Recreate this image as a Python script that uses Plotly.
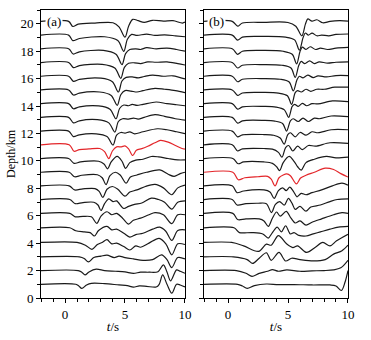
import plotly.graph_objects as go

# ---------------- data ----------------
DEPTHS = list(range(1, 21))
# pre-event level of each trace (km), depth 1..20
DC = [0, 0, 0, 0.05, 0.12, 0.17, 0.18, 0.18, 0.17, 0.17,
      0.17, 0.17, 0.17, 0.17, 0.17, 0.17, 0.17, 0.17, 0.17, 0.17]
RED_A = 11
RED_B = 9
T_START = -2
X_TICKS = [0, 5, 10]
Y_TICKS = list(range(0, 21, 2))

# ---- panel (a): (time s, amplitude km) key points ----
A1 = [(0.9, 0), (1.15, -0.12), (1.4, -0.3), (1.8, -0.05), (2.2, 0.07), (3.3, 0.05), (4.5, -0.05), (5.2, -0.1), (5.7, -0.2), (6.2, -0.12), (6.8, -0.15), (7.6, -0.2), (7.85, 0.0), (8.14, 0.68), (8.5, 0.0), (8.9, -0.65), (9.3, 0.0), (9.6, -0.05), (10, -0.2)]
A2 = [(1.1, 0), (1.4, -0.12), (1.67, -0.32), (2.0, -0.1), (2.6, 0.1), (3.3, 0.0), (4.2, -0.05), (5.0, -0.1), (5.7, -0.2), (6.3, -0.12), (7.0, -0.12), (7.75, -0.08), (8.2, 0.42), (8.5, -0.1), (8.8, -0.75), (9.3, 0.05), (9.6, -0.05), (10, -0.2)]
A3 = [(1.2, 0), (1.6, -0.12), (1.95, -0.37), (2.4, -0.05), (3.0, 0.05), (3.5, 0.12), (4.1, -0.05), (4.5, 0.05), (5.0, -0.05), (5.7, -0.15), (6.5, -0.25), (7.3, -0.2), (8.05, 0.15), (8.5, -0.2), (8.9, -0.78), (9.4, -0.05), (10, -0.15)]
A4 = [(1.0, 0), (1.7, -0.2), (2.25, -0.5), (2.7, -0.15), (3.1, 0.0), (3.5, 0.2), (3.9, -0.1), (4.3, -0.05), (4.9, -0.3), (5.4, -0.55), (5.9, -0.25), (6.3, -0.35), (7.0, -0.05), (7.85, 0.3), (8.4, -0.1), (8.9, -0.9), (9.4, -0.1), (10, -0.15)]
A5 = [(0.4, 0), (0.9, -0.22), (1.6, -0.3), (2.1, -0.35), (2.45, -0.6), (2.8, -0.2), (3.5, 0.1), (3.9, -0.15), (4.3, -0.1), (4.9, -0.4), (5.4, -0.68), (5.9, -0.5), (6.5, -0.4), (7.3, -0.1), (7.9, 0.05), (8.4, -0.25), (8.9, -0.92), (9.4, -0.2), (10, -0.15)]
A6 = [(0.4, 0), (0.85, -0.25), (1.5, -0.22), (2.2, -0.25), (2.65, -0.73), (3.0, -0.2), (3.5, 0.12), (3.9, -0.1), (4.3, 0.0), (4.8, -0.35), (5.3, -0.78), (5.7, -0.5), (6.3, -0.35), (7.0, -0.1), (7.5, 0.05), (8.2, -0.1), (8.9, -0.75), (9.4, -0.1), (10, -0.1)]
A7 = [(0.4, 0), (0.85, -0.3), (1.5, -0.22), (2.4, -0.2), (2.75, -0.4), (3.0, -0.8), (3.3, -0.3), (3.65, 0.05), (4.0, -0.15), (4.3, -0.1), (4.9, -0.65), (5.3, -0.5), (5.8, -0.35), (6.4, -0.25), (7.2, 0.1), (7.8, 0.0), (8.3, -0.2), (8.9, -0.7), (9.4, -0.2), (10, -0.1)]
A8 = [(0.35, 0), (0.8, -0.3), (1.5, -0.22), (2.5, -0.2), (2.85, -0.4), (3.15, -0.85), (3.5, -0.25), (3.95, -0.05), (4.4, -0.25), (5.0, -0.75), (5.4, -0.45), (6.0, -0.3), (6.7, -0.05), (7.5, 0.1), (8.2, -0.15), (8.9, -0.65), (9.4, -0.15), (10, 0.05)]
A9 = [(0.35, 0), (0.8, -0.33), (1.4, -0.22), (2.7, -0.18), (3.1, -0.4), (3.42, -0.9), (3.75, -0.25), (4.2, 0.0), (4.6, -0.2), (5.1, -0.8), (5.45, -0.35), (6.0, -0.2), (6.8, 0.0), (7.9, 0.17), (8.6, -0.15), (9.1, -0.3), (9.6, -0.1), (10, 0.0)]
A10 = [(0.3, 0), (0.75, -0.35), (1.3, -0.25), (2.8, -0.2), (3.25, -0.4), (3.55, -0.75), (3.85, -0.25), (4.35, 0.15), (4.75, -0.2), (5.05, -0.72), (5.4, -0.3), (5.9, -0.12), (6.5, -0.05), (7.2, 0.15), (7.8, 0.12), (8.6, 0.0), (9.4, -0.1), (10, -0.1)]
A11 = [(0.35, 0), (0.75, -0.47), (1.2, -0.35), (2.0, -0.3), (2.9, -0.27), (3.3, -0.5), (3.65, -1.0), (3.95, -0.45), (4.3, -0.15), (4.7, -0.15), (5.0, -0.08), (5.3, -0.3), (5.65, -0.78), (5.95, -0.4), (6.4, -0.28), (6.9, -0.1), (7.5, 0.15), (7.95, 0.32), (8.6, 0.2), (9.2, -0.05), (9.7, -0.25), (10, -0.32)]
A12 = [(0.3, 0), (0.7, -0.4), (1.2, -0.27), (2.6, -0.2), (3.5, -0.4), (4.0, -1.02), (4.3, -0.3), (4.65, -0.1), (5.0, -0.15), (5.4, -0.05), (5.8, -0.2), (6.5, -0.05), (7.7, 0.17), (8.5, 0.1), (9.3, -0.05), (10, -0.18)]
A13 = [(0.3, 0), (0.7, -0.4), (1.2, -0.25), (2.7, -0.17), (3.65, -0.4), (4.15, -1.07), (4.45, -0.3), (4.8, -0.1), (5.3, -0.12), (5.7, -0.05), (6.1, -0.12), (6.6, 0.0), (7.5, 0.2), (8.3, 0.08), (9.2, -0.1), (10, -0.2)]
A14 = [(0.3, 0), (0.7, -0.37), (1.2, -0.23), (2.8, -0.16), (3.75, -0.4), (4.25, -1.1), (4.55, -0.35), (4.9, -0.1), (5.3, -0.15), (5.6, -0.05), (6.0, -0.12), (6.5, -0.05), (7.6, 0.12), (8.5, 0.0), (9.3, -0.08), (10, -0.15)]
A15 = [(0.3, 0), (0.7, -0.37), (1.2, -0.23), (2.9, -0.15), (3.85, -0.4), (4.35, -1.12), (4.65, -0.35), (5.0, -0.05), (5.5, -0.08), (6.0, -0.15), (6.5, -0.05), (7.5, 0.12), (8.3, 0.05), (9.2, -0.05), (10, -0.2)]
A16 = [(0.3, 0), (0.7, -0.37), (1.2, -0.23), (3.0, -0.14), (3.95, -0.4), (4.45, -1.15), (4.75, -0.35), (5.1, -0.08), (5.6, -0.05), (6.1, -0.12), (6.6, -0.02), (7.3, 0.08), (8.2, 0.0), (9.0, 0.03), (10, -0.2)]
A17 = [(0.3, 0), (0.7, -0.37), (1.2, -0.22), (3.1, -0.13), (4.15, -0.4), (4.65, -1.15), (4.95, -0.35), (5.3, -0.05), (5.8, -0.02), (6.3, -0.08), (6.9, 0.05), (7.6, 0.02), (8.5, 0.05), (9.4, -0.08), (10, -0.18)]
A18 = [(0.3, 0), (0.68, -0.38), (1.2, -0.22), (3.2, -0.12), (4.25, -0.4), (4.75, -1.15), (5.05, -0.35), (5.4, -0.05), (5.9, 0.0), (6.3, -0.05), (6.8, 0.08), (7.6, 0.0), (8.5, 0.05), (9.3, -0.05), (10, -0.17)]
A19 = [(0.3, 0), (0.65, -0.4), (1.2, -0.25), (3.3, -0.12), (4.4, -0.4), (4.9, -1.18), (5.2, -0.3), (5.55, 0.05), (6.0, -0.02), (6.8, 0.07), (7.5, -0.02), (8.3, 0.02), (9.2, -0.05), (10, -0.12)]
A20 = [(0.3, 0), (0.65, -0.37), (1.1, -0.2), (2.5, -0.12), (4.0, -0.1), (4.5, -0.4), (5.0, -1.15), (5.3, -0.35), (5.65, 0.15), (6.1, 0.05), (6.6, -0.07), (7.3, 0.08), (8.2, 0.02), (9.0, 0.05), (9.8, -0.12), (10, -0.05)]

# ---- panel (b) ----
B1 = [(0.8, 0), (1.2, -0.12), (1.6, -0.3), (2.2, -0.1), (3.2, 0.02), (4.2, -0.03), (5.5, -0.02), (7.0, -0.05), (8.5, -0.05), (9.0, -0.12), (9.45, -0.45), (9.75, 0.15), (10, 1.0)]
B2 = [(0.7, 0), (1.5, -0.2), (2.0, -0.42), (2.6, -0.2), (3.3, -0.05), (3.7, 0.07), (4.2, -0.05), (4.9, 0.05), (6.0, -0.05), (7.0, -0.02), (8.0, 0.0), (8.8, 0.05), (9.4, 0.2), (10, 0.75)]
B3 = [(0.45, 0), (1.6, -0.2), (2.05, -0.48), (2.6, -0.1), (3.2, 0.3), (3.6, -0.25), (4.25, 0.32), (4.8, -0.3), (5.3, -0.1), (6.0, -0.2), (7.1, -0.3), (8.1, -0.2), (8.8, 0.2), (9.5, 0.45), (10, 0.85)]
B4 = [(0.3, 0), (1.3, -0.25), (2.55, -0.65), (3.2, -0.12), (3.6, -0.2), (4.2, 0.5), (4.9, -0.12), (5.4, -0.37), (5.8, -0.25), (6.55, -0.73), (7.25, -0.37), (7.9, 0.0), (8.5, -0.25), (9.05, 0.12), (10, 0.6)]
B5 = [(0.5, 0), (0.95, -0.35), (2.0, -0.35), (2.9, -0.45), (3.35, -0.75), (3.7, -0.35), (4.1, 0.05), (4.45, -0.3), (4.8, 0.15), (5.2, -0.45), (5.5, -0.35), (5.9, -0.55), (6.5, -0.6), (7.1, -0.45), (7.7, -0.3), (8.5, -0.1), (9.2, 0.05), (10, 0.1)]
B6 = [(0.4, 0), (0.8, -0.45), (1.5, -0.4), (2.6, -0.4), (3.0, -0.55), (3.36, -0.95), (3.7, -0.35), (4.05, 0.1), (4.35, -0.2), (4.85, 0.15), (5.25, -0.35), (5.6, -0.7), (6.0, -0.55), (6.5, -0.85), (7.0, -0.65), (7.8, -0.4), (8.8, -0.1), (9.5, 0.05), (10, 0.0)]
B7 = [(0.35, 0), (0.75, -0.4), (1.5, -0.3), (2.5, -0.27), (3.2, -0.3), (3.62, -0.95), (3.95, -0.35), (4.3, -0.15), (4.7, -0.4), (5.03, 0.08), (5.35, -0.3), (5.6, -0.72), (6.0, -0.5), (6.5, -0.85), (6.9, -0.55), (7.7, -0.4), (8.5, -0.15), (9.1, 0.0), (10, 0.05)]
B8 = [(0.35, 0), (0.75, -0.5), (1.3, -0.38), (3.0, -0.3), (3.5, -0.45), (3.85, -0.92), (4.2, -0.35), (4.55, -0.15), (4.85, -0.35), (5.15, -0.1), (5.45, -0.4), (5.75, -0.8), (6.1, -0.55), (6.5, -0.65), (7.0, -0.5), (7.8, -0.3), (8.7, 0.0), (9.5, 0.2), (10, 0.05)]
B9 = [(0.4, 0), (0.85, -0.55), (1.4, -0.4), (2.5, -0.33), (3.3, -0.3), (3.6, -0.5), (3.92, -1.0), (4.25, -0.4), (4.6, -0.2), (4.9, -0.12), (5.2, -0.25), (5.7, -0.85), (6.05, -0.42), (6.5, -0.22), (7.2, 0.0), (8.1, 0.3), (8.8, 0.2), (9.4, -0.1), (10, -0.35)]
B10 = [(0.4, 0), (0.85, -0.38), (1.3, -0.25), (3.0, -0.25), (3.7, -0.35), (4.05, -0.6), (4.3, -0.88), (4.6, -0.3), (5.1, 0.15), (5.5, -0.2), (5.8, -0.6), (6.1, -0.85), (6.5, -0.3), (7.2, -0.05), (8.2, 0.15), (9.0, 0.05), (10, 0.1)]
B11 = [(0.35, 0), (0.8, -0.45), (1.2, -0.3), (3.0, -0.27), (3.7, -0.32), (4.2, -0.55), (4.5, -0.9), (4.8, -0.2), (5.05, -0.05), (5.4, -0.45), (5.8, -0.1), (6.2, -0.35), (6.7, -0.05), (7.3, -0.1), (8.5, 0.15), (10, 0.1)]
B12 = [(0.35, 0), (0.8, -0.42), (1.2, -0.27), (3.0, -0.25), (3.8, -0.3), (4.35, -0.5), (4.68, -0.95), (4.98, -0.25), (5.2, -0.12), (5.6, -0.42), (6.0, -0.1), (6.5, -0.3), (7.0, -0.05), (7.5, -0.12), (8.6, 0.1), (10, 0.1)]
B13 = [(0.35, 0), (0.8, -0.42), (1.2, -0.25), (3.0, -0.22), (3.9, -0.27), (4.55, -0.45), (4.88, -1.0), (5.2, -0.25), (5.42, -0.1), (5.85, -0.3), (6.25, -0.05), (6.7, -0.3), (7.2, -0.05), (7.6, -0.1), (8.6, 0.1), (10, 0.05)]
B14 = [(0.35, 0), (0.8, -0.4), (1.2, -0.23), (3.0, -0.2), (4.0, -0.25), (4.7, -0.45), (5.05, -1.0), (5.35, -0.2), (5.55, -0.05), (5.85, -0.2), (6.2, 0.02), (6.55, -0.15), (7.0, 0.0), (7.5, -0.02), (8.7, 0.2), (10, 0.15)]
B15 = [(0.35, 0), (0.8, -0.4), (1.2, -0.22), (3.0, -0.18), (4.2, -0.23), (4.95, -0.42), (5.3, -1.05), (5.6, -0.2), (5.8, -0.05), (6.1, -0.15), (6.5, 0.05), (6.9, -0.1), (7.4, 0.05), (8.0, 0.05), (8.9, 0.2), (10, 0.2)]
B16 = [(0.35, 0), (0.8, -0.4), (1.2, -0.22), (3.0, -0.17), (4.35, -0.22), (5.1, -0.42), (5.44, -1.07), (5.75, -0.25), (5.95, 0.0), (6.25, -0.12), (6.65, 0.08), (7.1, -0.1), (7.5, 0.02), (8.2, -0.05), (9.0, 0.05), (10, 0.05)]
B17 = [(0.35, 0), (0.8, -0.4), (1.2, -0.2), (3.0, -0.15), (4.5, -0.2), (5.25, -0.4), (5.6, -1.08), (5.9, -0.2), (6.1, 0.08), (6.4, -0.08), (6.8, 0.12), (7.2, -0.08), (7.6, 0.05), (8.3, -0.05), (9.0, 0.02), (10, 0.05)]
B18 = [(0.35, 0), (0.8, -0.4), (1.2, -0.18), (3.0, -0.12), (4.6, -0.18), (5.35, -0.4), (5.72, -1.1), (6.0, -0.2), (6.2, 0.12), (6.5, -0.05), (6.85, 0.15), (7.3, -0.05), (7.7, 0.05), (8.3, -0.05), (9.0, 0.05), (10, 0.1)]
B19 = [(0.35, 0), (0.8, -0.37), (1.2, -0.15), (3.0, -0.1), (4.8, -0.15), (5.55, -0.35), (5.95, -1.1), (6.25, -0.2), (6.45, 0.15), (6.7, 0.0), (7.0, 0.15), (7.4, -0.05), (7.8, 0.0), (8.4, -0.05), (9.0, 0.05), (10, 0.08)]
B20 = [(0.35, 0), (0.8, -0.35), (1.2, -0.12), (3.0, -0.07), (5.0, -0.08), (5.65, -0.35), (6.15, -1.05), (6.45, -0.2), (6.65, 0.18), (7.0, 0.02), (7.4, 0.12), (7.9, -0.1), (8.5, 0.0), (9.3, 0.05), (10, 0.02)]

PANEL_A = [A1, A2, A3, A4, A5, A6, A7, A8, A9, A10, A11, A12, A13, A14, A15, A16, A17, A18, A19, A20]
PANEL_B = [B1, B2, B3, B4, B5, B6, B7, B8, B9, B10, B11, B12, B13, B14, B15, B16, B17, B18, B19, B20]

BLACK = "#1a1a1a"
RED = "#e3262a"
FONT = "Liberation Serif"

fig = go.Figure()


def add_panel(traces, red_depth, xa, ya):
    order = [i for i in range(20) if DEPTHS[i] != red_depth] + [DEPTHS.index(red_depth)]
    for i in order:
        d = DEPTHS[i]
        base = d + DC[i]
        pts = traces[i]
        xs = [T_START] + [p[0] for p in pts]
        ys = [base] + [base + p[1] for p in pts]
        fig.add_trace(go.Scatter(
            x=xs, y=ys, mode="lines", xaxis=xa, yaxis=ya,
            line=dict(color=RED if d == red_depth else BLACK, width=1.2,
                      shape="spline", smoothing=0.9),
            hoverinfo="skip", showlegend=False))


add_panel(PANEL_A, RED_A, "x", "y")
add_panel(PANEL_B, RED_B, "x2", "y2")

xcommon = dict(range=[-2, 10], tickvals=X_TICKS, ticks="outside", ticklen=4,
               tickwidth=1, tickcolor="black", showline=True, linecolor="black",
               linewidth=1, mirror=True, showgrid=False, zeroline=False, automargin=False,
               minor=dict(dtick=1, ticks="outside", ticklen=3, tickcolor="black", showgrid=False),
               tickfont=dict(family=FONT, size=13, color="black"),
               title=dict(text="<i>t</i>/s", font=dict(family=FONT, size=13, color="black"), standoff=1))
ycommon = dict(range=[0, 21], tickvals=Y_TICKS, ticks="outside", ticklen=4,
               tickwidth=1, tickcolor="black", showline=True, linecolor="black",
               linewidth=1, mirror=True, showgrid=False, zeroline=False, automargin=False,
               minor=dict(dtick=1, ticks="outside", ticklen=3, tickcolor="black", showgrid=False),
               tickfont=dict(family=FONT, size=13, color="black"))

fig.update_layout(
    width=371, height=340,
    margin=dict(l=41, r=23, t=10, b=42),
    paper_bgcolor="white", plot_bgcolor="white",
    font=dict(family=FONT, size=13, color="black"),
    xaxis=dict(domain=[0, 0.469], anchor="y", **xcommon),
    xaxis2=dict(domain=[0.531, 1], anchor="y2", **xcommon),
    yaxis=dict(domain=[0, 1], anchor="x",
               title=dict(text="Depth/km", font=dict(family=FONT, size=12, color="black"), standoff=2),
               **ycommon),
    yaxis2=dict(domain=[0, 1], anchor="x2", showticklabels=False, **ycommon),
)

for lab, xr, yr in [("(a)", "x", "y"), ("(b)", "x2", "y2")]:
    fig.add_annotation(text=lab, x=-0.95, y=20.17, xref=xr, yref=yr, showarrow=False,
                       bgcolor="white", borderpad=1,
                       font=dict(family=FONT, size=13, color="black"))

fig.write_html("out.html", config={"displayModeBar": False},
               post_script="document.body.style.margin='0px';")
